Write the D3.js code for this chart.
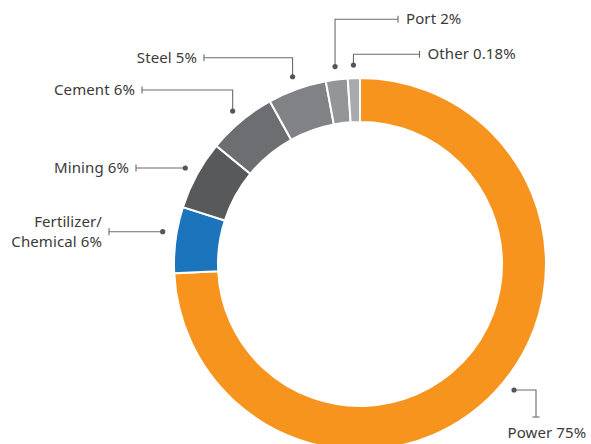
<!DOCTYPE html>
<html>
<head>
<meta charset="utf-8">
<script src="https://cdn.jsdelivr.net/npm/d3@7"></script>
<style>
  html, body { margin: 0; padding: 0; background: #fff; }
  svg { display: block; }
  text { font-family: "Noto Sans", sans-serif; font-size: 15px; letter-spacing: 0.1px; fill: #3a3a3a; }
</style>
</head>
<body>
<svg id="chart" width="591" height="444"></svg>
<script>
// ---- data ----
const categories = ["Power", "Fertilizer/Chemical", "Mining", "Cement", "Steel", "Port", "Other"];
const labelLines = [["Power 75%"], ["Fertilizer/", "Chemical 6%"], ["Mining 6%"], ["Cement 6%"], ["Steel 5%"], ["Port 2%"], ["Other 0.18%"]];
// share of the ring as drawn in the picture (percent)
const shares = [74.2, 5.75, 6.0, 6.0, 5.1, 1.9, 1.05];
const colors = ["#F7941D", "#1C75BC", "#58595B", "#6D6E71", "#808285", "#939598", "#A7A9AC"];

// ---- layout (positions only) ----
const W = 591, H = 444;
const cx = 360, cy = 264, R = 186, r = 142, dotR = 199;
// cap point of each leader, route type, text side, dot position within slice
const leaders = [
  { cap: [536, 417], route: "hv", side: "below", tx: 507.5, ty: 438, frac: 0.484 },
  { cap: [109, 231.7], route: "h", side: "left" },
  { cap: [136, 168], route: "h", side: "left" },
  { cap: [142, 90], route: "vh", side: "left" },
  { cap: [204, 57.7], route: "vh", side: "left" },
  { cap: [398, 19.3], route: "vh", side: "right" },
  { cap: [419.5, 54.3], route: "vh", side: "right" }
];

const svg = d3.select("#chart");
const g = svg.append("g").attr("transform", `translate(${cx},${cy})`);

const pie = d3.pie().sort(null).value(d => d);
const arcs = pie(shares);
const arc = d3.arc().innerRadius(r).outerRadius(R);

g.selectAll("path.slice")
  .data(arcs)
  .join("path")
  .attr("class", "slice")
  .attr("d", arc)
  .attr("fill", (d, i) => colors[i])
  .attr("stroke", "#fff")
  .attr("stroke-width", 2);

const lineColor = "#6b6b6b";
const ann = svg.append("g");

arcs.forEach((a, i) => {
  const L = leaders[i];
  const f = L.frac == null ? 0.5 : L.frac;
  const mid = a.startAngle + (a.endAngle - a.startAngle) * f;
  const dx = cx + dotR * Math.sin(mid);
  const dy = cy - dotR * Math.cos(mid);
  const [qx, qy] = L.cap;
  let pts;
  if (L.route === "h") pts = [[dx, qy], [qx, qy]];
  else if (L.route === "vh") pts = [[dx, dy], [dx, qy], [qx, qy]];
  else pts = [[dx, dy], [qx, dy], [qx, qy]];
  const startY = L.route === "h" ? qy : dy;
  ann.append("path")
    .attr("d", d3.line()(pts))
    .attr("fill", "none")
    .attr("stroke", lineColor)
    .attr("stroke-width", 1.1);
  ann.append("circle")
    .attr("cx", dx).attr("cy", startY).attr("r", 2.6)
    .attr("fill", "#555");
  // end cap
  if (L.route === "hv") {
    ann.append("line").attr("x1", qx - 3.5).attr("x2", qx + 3.5).attr("y1", qy).attr("y2", qy)
      .attr("stroke", lineColor).attr("stroke-width", 1.1);
  } else {
    ann.append("line").attr("x1", qx).attr("x2", qx).attr("y1", qy - 3.5).attr("y2", qy + 3.5)
      .attr("stroke", lineColor).attr("stroke-width", 1.1);
  }
  const lines = labelLines[i];
  if (L.side === "below") {
    ann.append("text").attr("x", L.tx).attr("y", L.ty).attr("text-anchor", "start").text(lines[0]);
  } else {
    const anchor = L.side === "left" ? "end" : "start";
    const x = L.side === "left" ? qx - 7 : qx + 8;
    const lh = 20;
    const y0 = qy + 5 - (lines.length - 1) * lh / 2;
    lines.forEach((s, k) => {
      ann.append("text").attr("x", x).attr("y", y0 + k * lh)
        .attr("text-anchor", anchor).text(s);
    });
  }
});
</script>
</body>
</html>
